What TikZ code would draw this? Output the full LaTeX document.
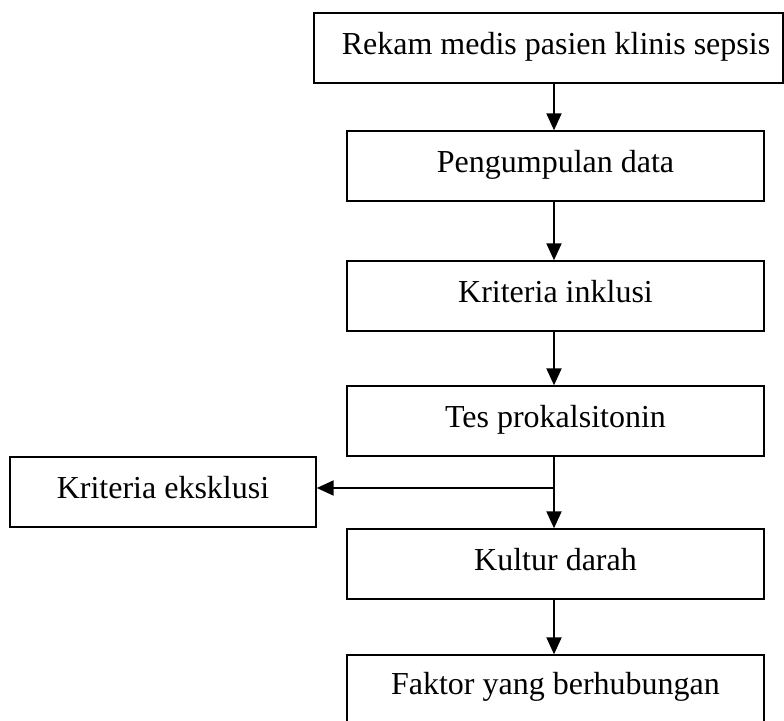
\documentclass[tikz,border=0pt]{standalone}
\usepackage{fontspec}
\setmainfont{Liberation Serif}
\usetikzlibrary{arrows.meta}
\begin{document}
\begin{tikzpicture}[x=1pt,y=-1pt,
  box/.style={draw=black, line width=1.4pt, rectangle, inner sep=0pt,
    font=\fontsize{32}{36}\selectfont, text height=21pt, text depth=9pt},
  txt/.style={inner sep=0pt, font=\fontsize{32}{36}\selectfont, text height=21pt, text depth=9pt},
  arr/.style={line width=2pt, -{Triangle[length=17pt,width=15pt]}}]
\useasboundingbox (0,0) rectangle (784,720);
\node[box, minimum width=469pt, minimum height=70pt] (b1) at (548.5,48) {};
\node[txt] (t1) at (556,48) {Rekam medis pasien klinis sepsis};
\node[box, minimum width=417pt, minimum height=70pt] (b2) at (555.5,166) {Pengumpulan data};
\node[box, minimum width=417pt, minimum height=70pt] (b3) at (555.5,296) {Kriteria inklusi};
\node[box, minimum width=417pt, minimum height=70pt] (b4) at (555.5,421) {Tes prokalsitonin};
\node[box, minimum width=306pt, minimum height=70pt] (b5) at (163,492) {Kriteria eksklusi};
\node[box, minimum width=417pt, minimum height=70pt] (b6) at (555.5,564) {Kultur darah};
\node[box, minimum width=417pt, minimum height=74pt] (b7) at (555.5,692) {};
\node[txt] (t7) at (555.5,688) {Faktor yang berhubungan};
\coordinate (xc) at (554,0);
\coordinate (br) at (554,488);
\draw[arr] (b1.south -| xc) -- (b2.north -| xc);
\draw[arr] (b2.south -| xc) -- (b3.north -| xc);
\draw[arr] (b3.south -| xc) -- (b4.north -| xc);
\draw[arr] (b4.south -| xc) -- (b6.north -| xc);
\draw[arr] (br) -- (br -| b5.east);
\draw[arr] (b6.south -| xc) -- (b7.north -| xc);
\end{tikzpicture}
\end{document}
